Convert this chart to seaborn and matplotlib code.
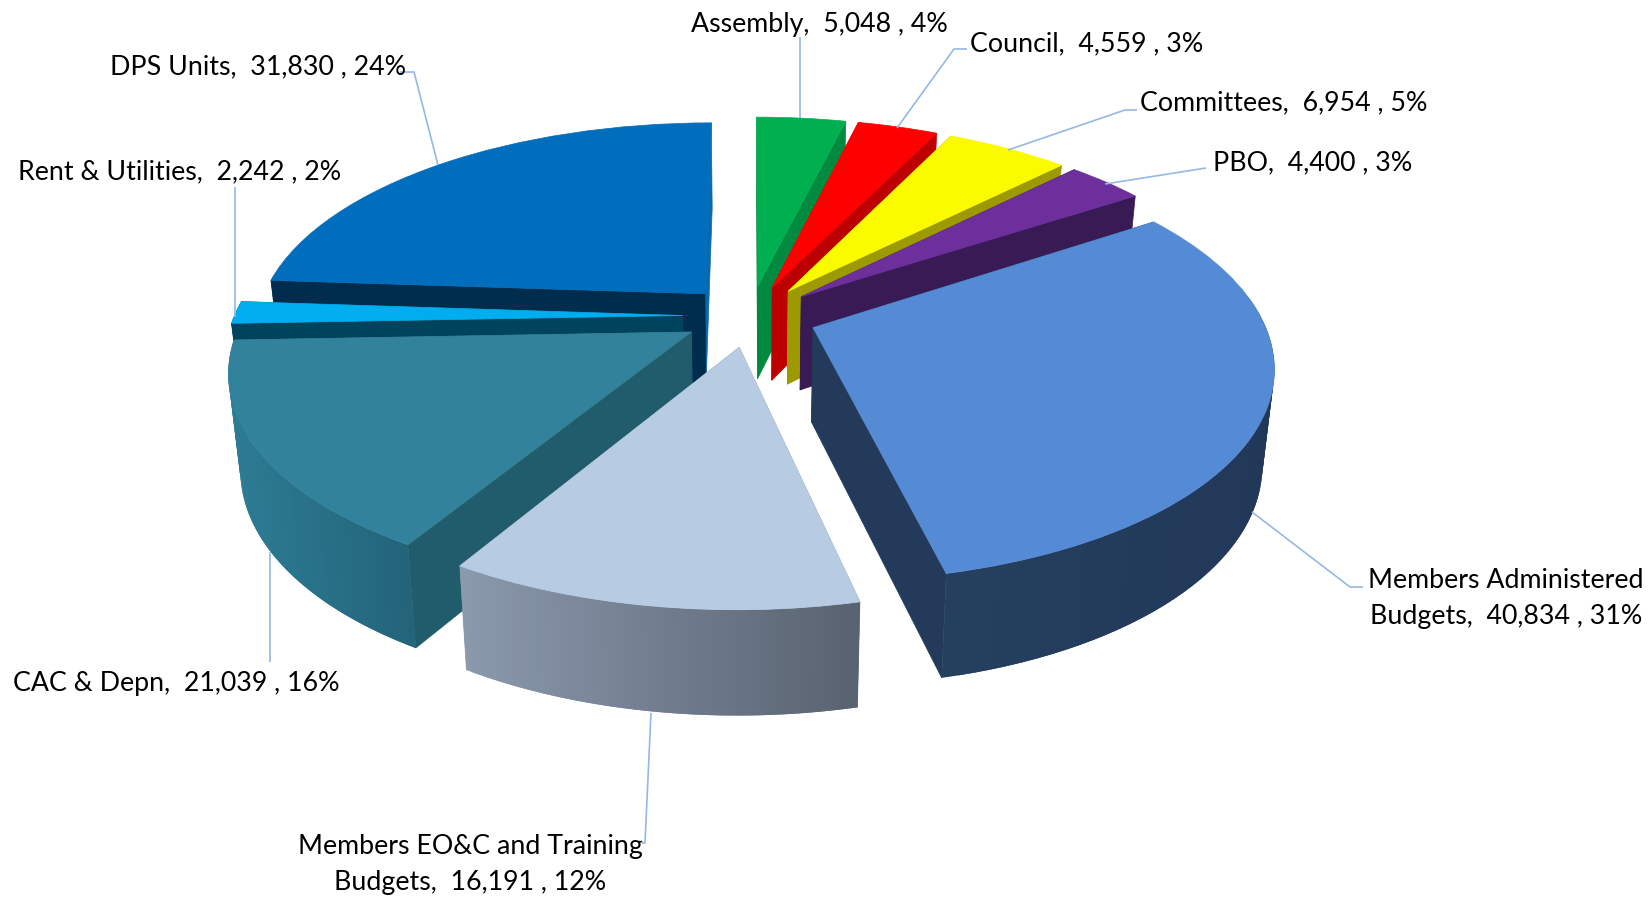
import numpy as np
import matplotlib
matplotlib.use("Agg")
import matplotlib.pyplot as plt
from matplotlib.patches import Polygon
from matplotlib.transforms import Transform
from matplotlib.colors import to_rgb
import seaborn as sns

categories = ["Assembly", "Council", "Committees", "PBO",
              "Members Administered\nBudgets", "Members EO&C and Training\nBudgets",
              "CAC & Depn", "Rent & Utilities", "DPS Units"]
values = [5048, 4559, 6954, 4400, 40834, 16191, 21039, 2242, 31830]
percents = [4, 3, 5, 3, 31, 12, 16, 2, 24]
top_colors = ["#00B050", "#FF0000", "#FBFB00", "#6C2F9C", "#558AD4",
              "#B7CBE3", "#31829A", "#00AEEF", "#006EBD"]
face_colors = ["#008A40", "#BC0000", "#9C9A00", "#381B54", "#233A5A",
               "#8A98AB", "#215C6C", "#00435C", "#002C4E"]
far_face_colors = ["#008A40", "#BC0000", "#9C9A00", "#381B54", "#233A5A",
                   "#8A98AB", "#215C6C", "#00435C", "#0A69AE"]
rim_left = ["#008A40", "#BC0000", "#9C9A00", "#381B54", "#25405F",
            "#8B99AD", "#2D7C94", "#00435C", "#002C4E"]
rim_right = ["#008A40", "#BC0000", "#9C9A00", "#381B54", "#223858",
             "#586270", "#23647A", "#00435C", "#002C4E"]
paint_order = [8, 7, 6, 5, 0, 1, 2, 3, 4]

CX, CY, SCALE_X, SCALE_Y, PERSP = 750.0, 316.0, 448.5, 206.5, 0.168
DEPTH = 94.0
EXPLODE = 0.15


def project(X, Y, z=0.0):
    X, Y = np.asarray(X, float), np.asarray(Y, float)
    w = 1 + PERSP * Y
    sx = CX + SCALE_X * X / w
    sy = CY - SCALE_Y * Y / w
    sx = CX + (sx - CX) * (1 - 0.023 * z)
    sy = sy + z * DEPTH * w ** -0.55
    return np.column_stack([sx, sy])


class TiltTransform(Transform):
    input_dims = 2
    output_dims = 2
    is_separable = False
    has_inverse = False

    def transform_non_affine(self, xy):
        xy = np.asarray(xy, float)
        return project(xy[:, 0], xy[:, 1])


sns.set_theme(style="white")
plt.rcParams["font.family"] = ["Lato", "DejaVu Sans"]

fig = plt.figure(figsize=(16.51, 8.97), dpi=100, facecolor="white")
ax = fig.add_axes([0, 0, 1, 1])

wedges, _ = ax.pie(values, explode=[EXPLODE] * len(values), colors=top_colors,
                   startangle=90, counterclock=False,
                   wedgeprops={"linewidth": 0})
ax.set_aspect("auto")
ax.set_xlim(0, 1651)
ax.set_ylim(897, 0)
ax.axis("off")

tilt = TiltTransform()
for order, i in enumerate(paint_order):
    w = wedges[i]
    w.set_transform(tilt + ax.transData)
    w.set_clip_on(False)
    w.set_zorder(order + 0.2)
    w.set_edgecolor(top_colors[i])
    w.set_linewidth(0.5)
    c = np.array(w.center)
    for th, col in ((w.theta1, far_face_colors[i]), (w.theta2, face_colors[i])):
        t = np.deg2rad(th)
        px = [c[0], c[0] + w.r * np.cos(t)]
        py = [c[1], c[1] + w.r * np.sin(t)]
        pts = np.vstack([project(px, py, 0), project(px[::-1], py[::-1], 1)])
        ax.add_patch(Polygon(pts, closed=True, facecolor=col,
                             edgecolor=col, lw=0.5, zorder=order))
    th = np.deg2rad(np.linspace(w.theta1, w.theta2, 60))
    rx = c[0] + w.r * np.cos(th)
    ry = c[1] + w.r * np.sin(th)
    top = project(rx, ry, 0)
    bot = project(rx, ry, 1)
    lo, hi = top[:, 0].min(), top[:, 0].max()
    a, b = np.array(to_rgb(rim_left[i])), np.array(to_rgb(rim_right[i]))
    n = len(th)
    for k in range(n - 1):
        # the far part of the rim faces away from the viewer
        if np.sin(th[k]) > 0.1:
            continue
        m = min(k + 2, n - 1)
        f = ((top[k, 0] + top[k + 1, 0]) / 2 - lo) / max(hi - lo, 1)
        col = tuple(a + (b - a) * f)
        quad = np.vstack([top[k:m + 1], bot[k:m + 1][::-1]])
        ax.add_patch(Polygon(quad, closed=True, facecolor=col, edgecolor="none",
                             lw=0, zorder=order + 0.1))

LINE = "#95B8E3"
leaders = [
    [(800, 37), (800, 118)],
    [(967, 49), (954, 49), (897, 128)],
    [(1137, 110), (1125, 110), (1008, 150)],
    [(1206, 168), (1105, 184)],
    [(1363, 587), (1350, 587), (1252, 512)],
    [(642, 843), (645, 843), (651, 713)],
    [(270, 662), (270, 552)],
    [(235, 187), (235, 317)],
    [(400, 72), (414, 72), (438, 165)],
]
for seg in leaders:
    xs, ys = zip(*seg)
    ax.plot(xs, ys, color=LINE, lw=1.2, zorder=50, solid_capstyle="butt")

label_pos = [(691, 24.5, "left"), (970, 43.5, "left"), (1140, 102.5, "left"),
             (1213, 162.5, "left"), (1506, 598.5, "center"), (470, 864.5, "center"),
             (13, 683, "left"), (18, 172, "left"), (110, 66.5, "left")]
for cat, val, pct, (x, y, ha) in zip(categories, values, percents, label_pos):
    ax.text(x, y, f"{cat},  {val:,} , {pct}%", ha=ha, va="center",
            multialignment="center", fontsize=19.3, color="black",
            linespacing=1.52, zorder=60)

fig.savefig("out.png", dpi=100, facecolor="white")
